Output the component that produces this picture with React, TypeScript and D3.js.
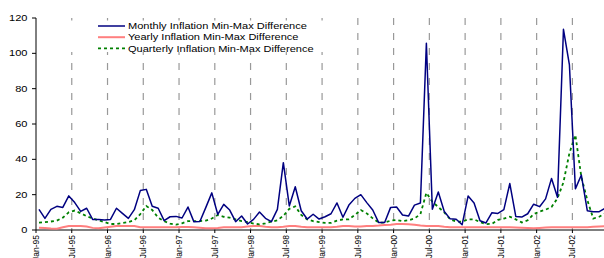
import React, { useEffect, useRef } from 'react';
import * as d3 from 'd3';

// Jan-95 .. Dec-02, one value per month
const monthly = [
  11.7, 6.6, 11.7, 13.4, 12.8, 19.3, 15.5, 10.5, 12.3, 6, 6, 5.6,
  6, 12.3, 9.4, 6.6, 11.5, 22.3, 23, 13.4, 12.3, 5.3, 7.5, 7.7,
  6.8, 13, 4.6, 4.8, 12.8, 21, 8.8, 14.5, 11.3, 4.7, 7.9, 3.4,
  6, 10.2, 6.6, 4.7, 11.7, 38.1, 13.6, 24.5, 10.9, 6.2, 8.9, 6.2,
  7.5, 9.2, 15.3, 7.2, 14.1, 17.9, 20, 15.5, 11.3, 4.2, 4.2, 12.8,
  13, 8.5, 7.9, 14.1, 15.3, 105.7, 11.7, 21.5, 10.5, 6.3, 6.1, 3,
  19.2, 15.3, 5.2, 4, 9.8, 9.4, 11.5, 26.3, 7.7, 7.3, 9.2, 14.6,
  13.2, 17.6, 29.2, 18.5, 113.6, 93.4, 23.3, 31.1, 10.9, 10.3, 10.4, 12.3,
];

const yearly = [
  1.3, 1.1, 0.8, 0.7, 1.5, 2.2, 2.3, 2.3, 2.0, 1.2, 1.0, 1.4,
  1.8, 2.2, 2.3, 2.3, 2.2, 1.6, 1.5, 1.5, 1.5, 1.5, 1.5, 1.6,
  1.7, 1.7, 1.6, 1.3, 1.0, 1.0, 1.2, 1.5, 1.5, 1.5, 1.6, 2.0,
  2.3, 2.3, 1.8, 1.5, 1.6, 1.8, 2.3, 2.3, 1.8, 1.5, 1.5, 1.5,
  1.5, 1.5, 1.8, 2.3, 2.2, 2.0, 2.0, 2.2, 2.3, 2.5, 2.8, 3.0,
  3.4, 3.4, 3.3, 3.0, 2.5, 2.3, 2.3, 2.2, 1.8, 1.5, 1.5, 1.5,
  1.6, 1.6, 1.5, 1.5, 1.5, 1.5, 1.5, 1.5, 1.4, 1.3, 1.2, 1.0,
  1.2, 1.4, 1.5, 1.5, 1.5, 1.5, 1.5, 1.5, 1.6, 1.8, 2.0, 2.2,
];

const quarterly = [
  4.2, 4.5, 4.8, 5.3, 7, 10, 11, 9.5, 7.8, 6.5, 5.5, 4.5,
  3.4, 3.4, 4, 4.5, 5.5, 9, 13.6, 11.3, 7, 5, 3.6, 3,
  3.8, 5, 5, 5, 5.3, 6.5, 8.5, 7.5, 7, 6, 5, 4.5,
  3.6, 3.2, 3.8, 4.7, 5.5, 8, 12, 13.4, 8.5, 6, 5, 4.5,
  4, 4, 5.3, 6, 6, 8.5, 11.3, 9.4, 6.6, 4.2, 4.2, 5.3,
  5.7, 5, 5.5, 6.5, 9, 21, 16, 13, 10, 6, 4.8, 4.7,
  6, 6, 4.5, 3.3, 3.5, 5.7, 6.5, 7.5, 6, 4.3, 5.5, 9,
  10.4, 11.5, 13, 18, 27, 43.5, 53.8, 30, 17, 6.5, 7.5, 9.4,
];

const tickLabels = [
  'Jan-95', 'Jul-95', 'Jan-96', 'Jul-96', 'Jan-97', 'Jul-97', 'Jan-98', 'Jul-98',
  'Jan-99', 'Jul-99', 'Jan-00', 'Jul-00', 'Jan-01', 'Jul-01', 'Jan-02', 'Jul-02',
];
const yTicks = [0, 20, 40, 60, 80, 100, 120];

const legendItems = [
  { name: 'Monthly Inflation Min-Max Difference', color: '#000080', dash: null, width: 1.5 },
  { name: 'Yearly Inflation Min-Max Difference', color: '#ff7f7f', dash: null, width: 2 },
  { name: 'Quarterly Inflation Min-Max Difference', color: '#008000', dash: '3,3', width: 1.8 },
];

const App = () => {
  const ref = useRef(null);

  useEffect(() => {
    const W = 604;
    const H = 258;
    const left = 36;
    const monthW = 5.96;
    const stretch = 1.3; // text in the original is widened

    d3.select(ref.current).select('svg').remove();
    const svg = d3.select(ref.current).append('svg')
      .attr('width', W)
      .attr('height', H)
      .style('position', 'absolute')
      .style('left', 0)
      .style('top', 0)
      .style('font-family', 'Liberation Sans, Arial, sans-serif');

    const x = d3.scaleLinear().domain([0, monthly.length]).range([left, left + monthly.length * monthW]);
    const y = d3.scaleLinear().domain([0, 120]).range([230, 18]);

    // dashed vertical gridlines every 6 months
    tickLabels.forEach((lab, k) => {
      if (k === 0) return;
      svg.append('line')
        .attr('x1', x(k * 6)).attr('x2', x(k * 6))
        .attr('y1', y(120)).attr('y2', y(0))
        .attr('stroke', '#999')
        .attr('stroke-width', 1.2)
        .attr('stroke-dasharray', '7,8');
    });

    // legend box hides the grid behind it
    svg.append('rect')
      .attr('x', 62).attr('y', 20.5).attr('width', 268).attr('height', 31.5)
      .attr('fill', '#fff');

    // axes
    svg.append('line')
      .attr('x1', x(0)).attr('x2', W).attr('y1', y(0)).attr('y2', y(0))
      .attr('stroke', '#000');
    svg.append('line')
      .attr('x1', x(0)).attr('x2', x(0)).attr('y1', y(120)).attr('y2', y(0))
      .attr('stroke', '#000');

    yTicks.forEach(t => {
      svg.append('line')
        .attr('x1', x(0) - 4).attr('x2', x(0))
        .attr('y1', y(t)).attr('y2', y(t))
        .attr('stroke', '#000');
      svg.append('text')
        .attr('transform', `translate(${x(0) - 8.5},${y(t) + 3}) scale(${stretch},1)`)
        .attr('text-anchor', 'end')
        .attr('font-size', 8.5)
        .text(t);
    });

    tickLabels.forEach((lab, k) => {
      const px = x(k * 6);
      svg.append('line')
        .attr('x1', px).attr('x2', px).attr('y1', y(0)).attr('y2', y(0) + 3)
        .attr('stroke', '#000');
      svg.append('text')
        .attr('transform', `translate(${px + 3},${y(0) + 5}) rotate(-90)`)
        .attr('text-anchor', 'end')
        .attr('font-size', 8.5)
        .text(lab);
    });

    const line = d3.line()
      .x((d, i) => x(i + 0.5))
      .y(d => y(d));

    svg.append('path').datum(yearly)
      .attr('d', line).attr('fill', 'none')
      .attr('stroke', legendItems[1].color).attr('stroke-width', legendItems[1].width);
    svg.append('path').datum(quarterly)
      .attr('d', line).attr('fill', 'none')
      .attr('stroke', legendItems[2].color).attr('stroke-width', legendItems[2].width)
      .attr('stroke-dasharray', legendItems[2].dash);
    svg.append('path').datum(monthly)
      .attr('d', line).attr('fill', 'none')
      .attr('stroke', legendItems[0].color).attr('stroke-width', legendItems[0].width)
      .attr('stroke-linejoin', 'round');

    // legend
    legendItems.forEach((item, i) => {
      const ly = 26 + i * 11.2;
      svg.append('line')
        .attr('x1', 98).attr('x2', 125).attr('y1', ly).attr('y2', ly)
        .attr('stroke', item.color).attr('stroke-width', item.width)
        .attr('stroke-dasharray', item.dash);
      svg.append('text')
        .attr('transform', `translate(128,${ly + 3.2}) scale(${stretch},1)`)
        .attr('font-size', 8.5)
        .text(item.name);
    });
  }, []);

  return <div ref={ref}></div>;
};

export default App;
